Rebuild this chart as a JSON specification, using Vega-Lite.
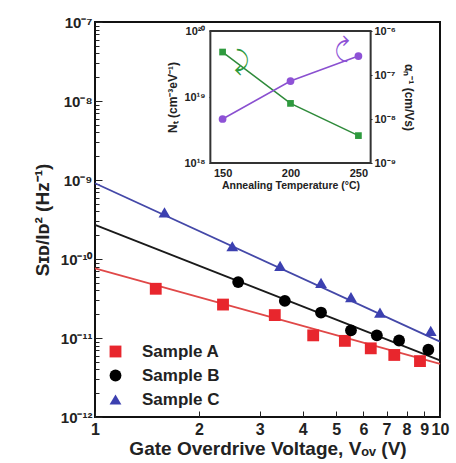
{
  "$schema": "https://vega.github.io/schema/vega-lite/v6.json",
  "width": 345,
  "height": 395,
  "autosize": "none",
  "padding": {"left": 95, "top": 22, "right": 16, "bottom": 46},
  "config": {
    "view": {"stroke": "#111", "strokeWidth": 2},
    "font": "Liberation Sans",
    "axis": {"labelFont": "Liberation Sans", "titleFont": "Liberation Sans", "labelFontWeight": "bold", "titleFontWeight": "bold", "labelColor": "#222", "titleColor": "#222", "tickColor": "#222", "domainColor": "#222", "grid": false, "labelOverlap": false, "labelFlush": false}
  },
  "datasets": {
    "pts": [
      {"V": 1.50, "S": 4.2e-11, "sample": "Sample A"},
      {"V": 2.35, "S": 2.65e-11, "sample": "Sample A"},
      {"V": 3.32, "S": 1.95e-11, "sample": "Sample A"},
      {"V": 4.29, "S": 1.08e-11, "sample": "Sample A"},
      {"V": 5.30, "S": 9.2e-12, "sample": "Sample A"},
      {"V": 6.30, "S": 7.4e-12, "sample": "Sample A"},
      {"V": 7.37, "S": 6.1e-12, "sample": "Sample A"},
      {"V": 8.75, "S": 5.1e-12, "sample": "Sample A"},
      {"V": 2.60, "S": 5.1e-11, "sample": "Sample B"},
      {"V": 3.55, "S": 2.95e-11, "sample": "Sample B"},
      {"V": 4.52, "S": 2.1e-11, "sample": "Sample B"},
      {"V": 5.52, "S": 1.25e-11, "sample": "Sample B"},
      {"V": 6.56, "S": 1.08e-11, "sample": "Sample B"},
      {"V": 7.61, "S": 9.3e-12, "sample": "Sample B"},
      {"V": 9.25, "S": 7.1e-12, "sample": "Sample B"},
      {"V": 1.59, "S": 3.9e-10, "sample": "Sample C"},
      {"V": 2.50, "S": 1.45e-10, "sample": "Sample C"},
      {"V": 3.44, "S": 8.2e-11, "sample": "Sample C"},
      {"V": 4.52, "S": 5.0e-11, "sample": "Sample C"},
      {"V": 5.52, "S": 3.3e-11, "sample": "Sample C"},
      {"V": 6.70, "S": 2.1e-11, "sample": "Sample C"},
      {"V": 9.40, "S": 1.23e-11, "sample": "Sample C"}
    ],
    "fits": [
      {"V": 1, "S": 7.6e-11, "fit": "A"},
      {"V": 10, "S": 4.7e-12, "fit": "A"},
      {"V": 1, "S": 2.7e-10, "fit": "B"},
      {"V": 10, "S": 5.2e-12, "fit": "B"},
      {"V": 1, "S": 9.1e-10, "fit": "C"},
      {"V": 10, "S": 9.0e-12, "fit": "C"}
    ],
    "nt": [
      {"T": 150, "N": 4.8e19},
      {"T": 200, "N": 8.0e18},
      {"T": 250, "N": 2.6e18}
    ],
    "alpha": [
      {"T": 150, "a": 1.0e-8},
      {"T": 200, "a": 7.3e-8},
      {"T": 250, "a": 2.7e-7}
    ]
  },
  "layer": [
    {
      "layer": [
        {
          "data": {"name": "fits"},
          "mark": {"type": "line", "strokeWidth": 1.8},
          "encoding": {
            "x": {"field": "V", "type": "quantitative", "scale": {"type": "log", "domain": [1, 10]},
              "axis": {"values": [1, 2, 3, 4, 5, 6, 7, 8, 9, 10], "format": "d", "labelFontSize": 16, "tickSize": -6, "labelPadding": 10, "domain": false, "title": "Gate Overdrive Voltage, Vₒᵥ (V)", "titleFontSize": 19, "titlePadding": 2}},
            "y": {"field": "S", "type": "quantitative", "scale": {"type": "log", "domain": [1e-12, 1e-7]},
              "axis": {
                "values": [1e-12, 2e-12, 3e-12, 4e-12, 5e-12, 6e-12, 7e-12, 8e-12, 9e-12, 1e-11, 2e-11, 3e-11, 4e-11, 5e-11, 6e-11, 7e-11, 8e-11, 9e-11, 1e-10, 2e-10, 3e-10, 4e-10, 5e-10, 6e-10, 7e-10, 8e-10, 9e-10, 1e-9, 2e-9, 3e-9, 4e-9, 5e-9, 6e-9, 7e-9, 8e-9, 9e-9, 1e-8, 2e-8, 3e-8, 4e-8, 5e-8, 6e-8, 7e-8, 8e-8, 9e-8, 1e-7],
                "labelExpr": "abs(log(datum.value)/LN10 - round(log(datum.value)/LN10)) < 0.001 ? ['10⁻¹²','10⁻¹¹','10⁻¹⁰','10⁻⁹','10⁻⁸','10⁻⁷'][round(log(datum.value)/LN10)+12] : ''",
                "tickSize": {"condition": {"test": "abs(log(datum.value)/LN10 - round(log(datum.value)/LN10)) < 0.001", "value": -7}, "value": -4},
                "labelFontSize": 15, "labelPadding": 10, "domain": false,
                "title": "Sɪᴅ/Iᴅ² (Hz⁻¹)", "titleFontSize": 19, "titlePadding": 8}},
            "stroke": {"field": "fit", "type": "nominal", "scale": {"domain": ["A", "B", "C"], "range": ["#e04848", "#1a1a1a", "#4448a8"]}, "legend": null}
          }
        },
        {
          "data": {"name": "pts"},
          "mark": {"type": "point", "filled": true, "size": 140, "opacity": 1},
          "encoding": {
            "x": {"field": "V", "type": "quantitative"},
            "y": {"field": "S", "type": "quantitative"},
            "color": {"field": "sample", "type": "nominal", "scale": {"domain": ["Sample A", "Sample B", "Sample C"], "range": ["#e8262d", "#000000", "#3c40b0"]},
              "legend": {"orient": "none", "legendX": 12, "legendY": 321, "title": null, "labelFont": "Liberation Sans", "labelFontSize": 17, "labelFontWeight": "bold", "labelColor": "#222", "symbolSize": 140, "rowPadding": 6, "labelOffset": 18}},
            "shape": {"field": "sample", "type": "nominal", "scale": {"domain": ["Sample A", "Sample B", "Sample C"], "range": ["square", "circle", "triangle-up"]},
              "legend": {"orient": "none", "legendX": 12, "legendY": 321, "title": null, "labelFont": "Liberation Sans", "labelFontSize": 17, "labelFontWeight": "bold", "labelColor": "#222", "symbolSize": 140, "rowPadding": 6, "labelOffset": 18}}
          }
        }
      ]
    },
    {
      "layer": [
        {
          "data": {"values": [{}]},
          "mark": {"type": "rect", "fill": "white", "stroke": "#333", "strokeWidth": 2},
          "encoding": {
            "x": {"datum": 141, "type": "quantitative", "scale": {"domain": [141, 259], "range": [114, 277]},
              "axis": {"orient": "bottom", "offset": -254, "values": [150, 200, 250], "domain": false, "tickSize": -4, "labelFontSize": 11, "labelPadding": 8, "title": "Annealing Temperature (°C)", "titleFontSize": 10.5, "titlePadding": 2}},
            "x2": {"datum": 259},
            "y": {"datum": 1e18, "type": "quantitative", "scale": {"type": "log", "domain": [1e18, 1e20], "range": [141, 9]},
              "axis": {"orient": "left", "offset": -114, "values": [1e18, 1e19, 1e20], "domain": false, "tickSize": -4, "labelFontSize": 11, "labelPadding": 8,
                "labelExpr": "['10¹⁸','10¹⁹','10²⁰'][round(log(datum.value)/LN10)-18]",
                "title": "Nₜ (cm⁻³eV⁻¹)", "titleFontSize": 12, "titlePadding": 4}},
            "y2": {"datum": 1e20}
          }
        },
        {
          "data": {"name": "nt"},
          "mark": {"type": "line", "color": "#2e8a3a", "strokeWidth": 1.5, "point": {"shape": "square", "size": 45, "filled": true, "color": "#2e9a3e", "opacity": 1}},
          "encoding": {
            "x": {"field": "T", "type": "quantitative"},
            "y": {"field": "N", "type": "quantitative"}
          }
        },
        {
          "data": {"values": [{}]},
          "mark": {"type": "text", "text": "⤸", "fontSize": 26, "color": "#2e9a3e", "font": "DejaVu Sans"},
          "encoding": {
            "x": {"datum": 164},
            "y": {"datum": 3.4e19}
          }
        }
      ]
    },
    {
      "layer": [
        {
          "data": {"name": "alpha"},
          "mark": {"type": "line", "color": "#8a50d0", "strokeWidth": 1.5, "point": {"shape": "circle", "size": 60, "filled": true, "color": "#8e52d6", "opacity": 1}},
          "encoding": {
            "x": {"field": "T", "type": "quantitative", "scale": {"domain": [141, 259], "range": [114, 277]}, "axis": null},
            "y": {"field": "a", "type": "quantitative", "scale": {"type": "log", "domain": [1e-9, 1e-6], "range": [141, 9]},
              "axis": {"orient": "right", "offset": -68, "values": [1e-9, 1e-8, 1e-7, 1e-6], "domain": false, "tickSize": -4, "labelFontSize": 11, "labelPadding": 6,
                "labelExpr": "['10⁻⁹','10⁻⁸','10⁻⁷','10⁻⁶'][round(log(datum.value)/LN10)+9]",
                "title": "αₙ⁻¹ (cm/Vs)", "titleFontSize": 12, "titlePadding": 6}}
          }
        },
        {
          "data": {"values": [{}]},
          "mark": {"type": "text", "text": "⤸", "fontSize": 26, "color": "#8e52d6", "angle": 180, "font": "DejaVu Sans"},
          "encoding": {
            "x": {"datum": 238},
            "y": {"datum": 4.0e-7}
          }
        }
      ]
    }
  ],
  "resolve": {"scale": {"x": "independent", "y": "independent"}, "axis": {"x": "independent", "y": "independent"}}
}
